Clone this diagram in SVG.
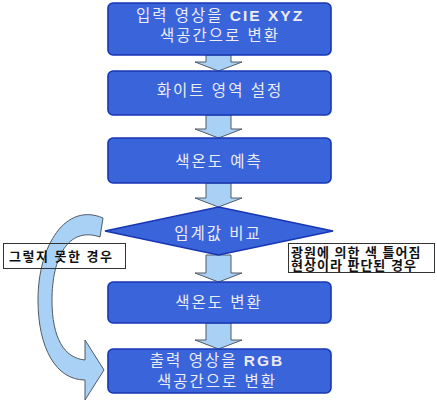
<svg xmlns="http://www.w3.org/2000/svg" width="437" height="404" viewBox="0 0 437 404">
<style>
.box{fill:#3a64da;stroke:#1836b4;stroke-width:1.6}
.bt{font-family:"Liberation Sans","Noto Sans CJK KR",sans-serif;font-size:15.5px;fill:#ececf2;text-anchor:middle;letter-spacing:2px}
.arr{fill:#a9d1f5;stroke:#505a66;stroke-width:1}
.lb{fill:#ffffff;stroke:#333;stroke-width:1}
.lt{font-family:"Liberation Sans","Noto Sans CJK KR",sans-serif;font-size:13px;font-weight:bold;fill:#111}
</style>
<rect width="437" height="404" fill="#ffffff"/>
<g id="connectors">
<path class="arr" d="M206,55 V62 H195 L218.5,71 L242,62 H231 V55 Z"/>
<path class="arr" d="M206,115 V129 H195 L218.5,138 L242,129 H231 V115 Z"/>
<path class="arr" d="M206,183 V198 H195 L218.5,207 L242,198 H231 V183 Z"/>
<path class="arr" d="M206,255 V273 H195 L218.5,282 L242,273 H231 V255 Z"/>
<path class="arr" d="M206,323 V340 H195 L218.5,349 L242,340 H231 V323 Z"/>
<path id="curve" class="arr" d="M103,218 C66,202 38,245 38,300 C38,348 56,380 85,380 L85,400 L104,370 L85,340 L85,360 C64,358 52,338 52,300 C52,258 68,226 100,237 Z"/>
</g>
<g id="n1"><rect class="box" x="108" y="3" width="223" height="52" rx="5"/><text class="bt" x="220" y="20.5">입력 영상을 <tspan font-weight="bold">CIE XYZ</tspan></text><text class="bt" x="220" y="41">색공간으로 변환</text></g>
<g id="n2"><rect class="box" x="108" y="71" width="223" height="44" rx="5"/><text class="bt" x="220" y="96">화이트 영역 설정</text></g>
<g id="n3"><rect class="box" x="108" y="138" width="223" height="45" rx="5"/><text class="bt" x="219" y="166.5">색온도 예측</text></g>
<g id="n4"><polygon class="box" points="218.5,207 333,231 218.5,255 105,231"/><text class="bt" x="218" y="238.5">임계값 비교</text></g>
<g id="n5"><rect class="box" x="108" y="282" width="223" height="41" rx="5"/><text class="bt" x="219" y="308">색온도 변환</text></g>
<g id="n6"><rect class="box" x="108" y="349" width="223" height="44" rx="5"/><text class="bt" x="217" y="365.5">출력 영상을 <tspan font-weight="bold">RGB</tspan></text><text class="bt" x="217" y="387">색공간으로 변환</text></g>
<g id="label-left"><rect x="3.5" y="243.5" width="122" height="25" fill="none" stroke="#333" stroke-width="1"/><text class="lt" x="9" y="261" letter-spacing="1.5">그렇지 못한 경우</text></g>
<g id="label-right"><rect class="lb" x="288.5" y="243.5" width="146" height="29"/><text class="lt" x="291" y="256.5" letter-spacing="1">광원에 의한 색 틀어짐</text><text class="lt" x="291" y="270" letter-spacing="1">현상이라 판단된 경우</text></g>
</svg>
